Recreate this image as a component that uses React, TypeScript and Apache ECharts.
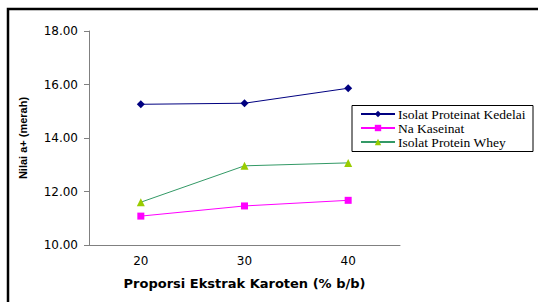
import React, { useEffect, useRef } from "react";
import * as echarts from "echarts";

const categories = ["20", "30", "40"];
const kedelai = [15.26, 15.3, 15.86];
const kaseinat = [11.08, 11.46, 11.67];
const whey = [11.6, 12.96, 13.07];
const seriesNames = ["Isolat Proteinat Kedelai", "Na Kaseinat", "Isolat Protein Whey"];

export default function App() {
  const ref = useRef<HTMLDivElement>(null);
  useEffect(() => {
    const chart = echarts.init(ref.current!, null, { renderer: "svg" });
    const axisFont = { fontFamily: "DejaVu Sans, Verdana, sans-serif", fontSize: 12, color: "#000" };
    chart.setOption({
      animation: false,
      backgroundColor: "#fff",
      grid: { left: 89, top: 31, width: 311, height: 214 },
      graphic: [
        {
          type: "rect",
          shape: { x: 8, y: 9, width: 600, height: 400 },
          style: { fill: "none", stroke: "#000", lineWidth: 2.5 },
          silent: true,
        },
        {
          type: "rect",
          shape: { x: 352, y: 105.5, width: 181, height: 46 },
          style: { fill: "#fff", stroke: "#000", lineWidth: 1 },
          z: 5,
        },
      ],
      legend: {
        orient: "vertical",
        left: 360,
        top: 107,
        itemGap: 0,
        itemWidth: 34,
        itemHeight: 8,
        padding: 0,
        data: seriesNames,
        textStyle: {
          fontFamily: "Liberation Serif, Times New Roman, serif",
          fontSize: 13.5,
          lineHeight: 14,
          color: "#000",
          padding: [0, 0, 0, -2],
        },
        z: 10,
      },
      xAxis: {
        type: "category",
        data: categories,
        boundaryGap: true,
        name: "Proporsi Ekstrak Karoten (% b/b)",
        nameLocation: "middle",
        nameGap: 32,
        nameTextStyle: { ...axisFont, fontWeight: "bold", fontSize: 13 },
        axisLine: { lineStyle: { color: "#808080", width: 1 } },
        axisTick: { length: 4, lineStyle: { color: "#808080" } },
        axisLabel: { ...axisFont, margin: 10 },
      },
      yAxis: {
        type: "value",
        min: 10,
        max: 18,
        interval: 2,
        name: "Nilai a+ (merah)",
        nameLocation: "middle",
        nameGap: 61,
        nameTextStyle: { fontFamily: "Liberation Sans, Arial, sans-serif", fontWeight: "bold", fontSize: 11, color: "#000" },
        axisLine: { show: true, lineStyle: { color: "#808080", width: 1 } },
        axisTick: { show: true, length: 5, lineStyle: { color: "#808080" } },
        splitLine: { show: false },
        axisLabel: { ...axisFont, margin: 11, formatter: (v: number) => v.toFixed(2) },
      },
      series: [
        {
          name: seriesNames[0],
          type: "line",
          data: kedelai,
          symbol: "diamond",
          symbolSize: 8,
          lineStyle: { color: "#000080", width: 1 },
          itemStyle: { color: "#000080" },
        },
        {
          name: seriesNames[1],
          type: "line",
          data: kaseinat,
          symbol: "rect",
          symbolSize: 7,
          lineStyle: { color: "#FF00FF", width: 1 },
          itemStyle: { color: "#FF00FF" },
        },
        {
          name: seriesNames[2],
          type: "line",
          data: whey,
          symbol: "triangle",
          symbolSize: 8,
          lineStyle: { color: "#339966", width: 1 },
          itemStyle: { color: "#99CC00" },
        },
      ],
    });
    return () => chart.dispose();
  }, []);
  return (
    <div
      ref={ref}
      style={{ position: "fixed", left: 0, top: 0, width: 538, height: 302 }}
    />
  );
}
